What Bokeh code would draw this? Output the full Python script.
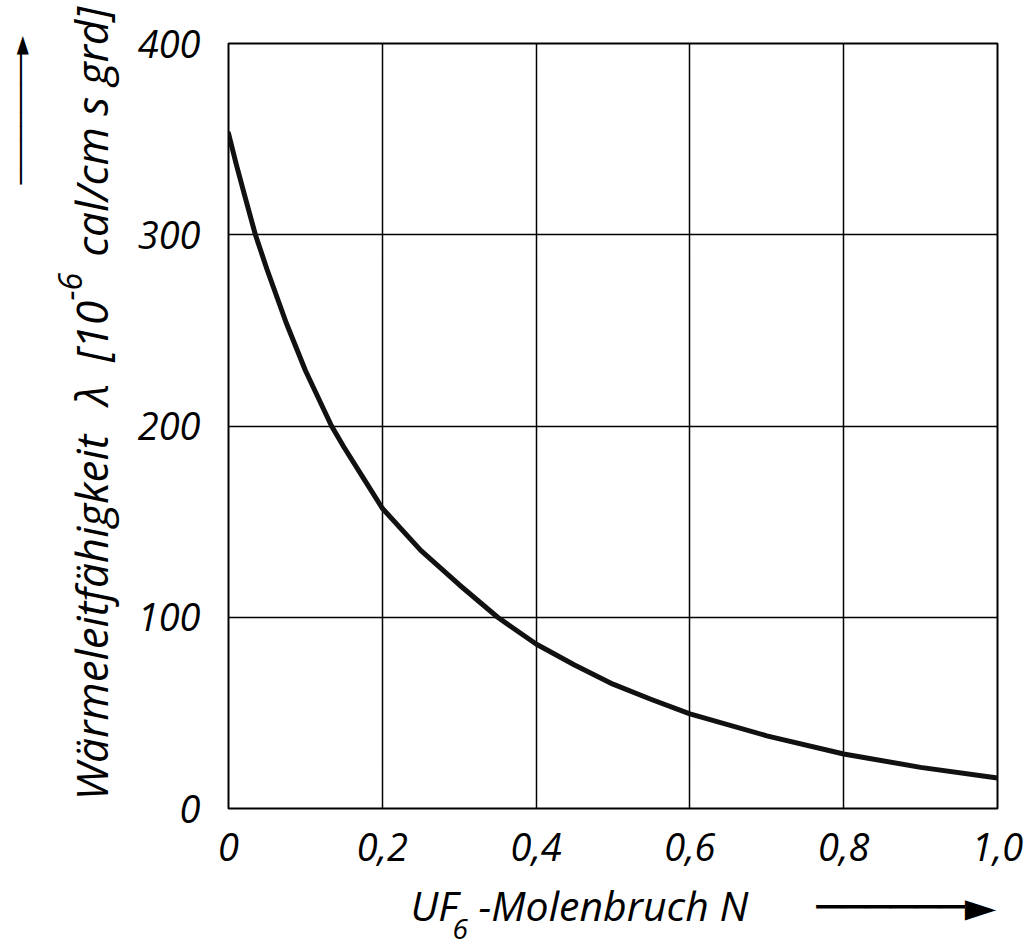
import math
from bokeh.plotting import figure
from bokeh.models import Range1d, FixedTicker, CustomJSTickFormatter, Label
from bokeh.embed import file_html
from bokeh.resources import INLINE

# ---- data ----
molenbruch = [0.0, 0.01, 0.02, 0.035, 0.05, 0.075, 0.1, 0.134, 0.15, 0.175,
              0.2, 0.25, 0.3, 0.35, 0.4, 0.45, 0.5, 0.55, 0.6, 0.7, 0.8, 0.9, 1.0]
waermeleit = [353, 337, 322, 300, 282, 254, 229, 200, 189, 173,
              157, 135, 117, 100, 86, 75, 65, 57, 49.5, 38, 28.5, 21.5, 16]

x_ticks = [0, 0.2, 0.4, 0.6, 0.8, 1.0]
y_ticks = [0, 100, 200, 300, 400]

x_title = ["UF", "6", "-Molenbruch N"]
y_title = ["Wärmeleitfähigkeit", "λ", "[10", "-6", "cal/cm s grd]"]

FONT = "'Open Sans', 'DejaVu Sans'"
SHAFT = "\u2500"
HEAD = "\u25ba"

p = figure(width=1026, height=949,
           x_range=Range1d(0, 1), y_range=Range1d(0, 400),
           output_backend="svg", toolbar_location=None,
           min_border_left=228, min_border_right=29,
           min_border_top=43, min_border_bottom=141)

p.background_fill_color = "white"
p.border_fill_color = "white"
p.outline_line_color = "black"
p.outline_line_width = 2

# axes
p.xaxis.ticker = FixedTicker(ticks=x_ticks)
p.yaxis.ticker = FixedTicker(ticks=y_ticks)
p.xaxis.formatter = CustomJSTickFormatter(
    code='return tick == 0 ? "0" : tick.toFixed(1).replace(".", ",");')
for ax in (p.xaxis, p.yaxis):
    ax.axis_line_color = None
    ax.major_tick_line_color = None
    ax.minor_tick_line_color = None
    ax.major_tick_in = 0
    ax.major_tick_out = 0
    ax.major_label_text_font = "Open Sans"
    ax.major_label_text_font_style = "italic"
    ax.major_label_text_font_size = "38px"
    ax.major_label_text_color = "black"
p.xaxis.major_label_standoff = 24
p.yaxis.major_label_standoff = 28

# grid
p.grid.grid_line_color = "black"
p.grid.grid_line_width = 1.5
p.grid.grid_line_alpha = 1.0

# curve
p.line(molenbruch, waermeleit, line_color="#111111", line_width=5,
       line_join="round", line_cap="round")

# ---- axis titles and direction arrows (labels in side panels: not clipped) ----
def lab(place, x, y, text, size, angle=0.0, style="italic"):
    p.add_layout(Label(x=x, y=y, text=text, angle=angle,
                       text_font=FONT, text_font_style=style,
                       text_font_size=size, text_color="black",
                       text_align="left", text_baseline="alphabetic"), place)

# x title with arrow on the same line
lab("below", 0.2367, -50.7,
    x_title[0] + "\u2002" + x_title[2] + "\u2003\u2002\u2009" + SHAFT * 6 + HEAD,
    "41px")
lab("above", 0.2913, -63.2, x_title[1], "28px")

# y title
R = math.pi / 2
lab("left", -0.1792, 4.2,
    y_title[0] + "\u2002\u2009" + y_title[1] + "\u2002" + y_title[2]
    + "\u2002\u2002" + y_title[4], "44px", angle=R)
lab("left", -0.2067, 265.6, y_title[3], "32px", angle=R)
# y arrow
lab("left", -0.2713, 326.3, SHAFT * 9 + HEAD, "24px", angle=R, style="normal")

open("out.html", "w").write(file_html(p, INLINE))
